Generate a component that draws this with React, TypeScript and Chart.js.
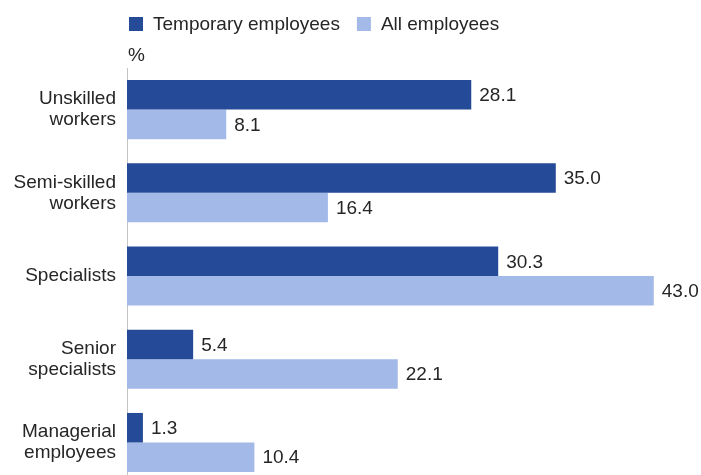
import React, { useEffect, useRef } from "react";
import { Chart, registerables } from "chart.js";

Chart.register(...registerables);

const categories: string[][] = [
  ["Unskilled", "workers"],
  ["Semi-skilled", "workers"],
  ["Specialists"],
  ["Senior", "specialists"],
  ["Managerial", "employees"],
];
const temporaryEmployees = [28.1, 35.0, 30.3, 5.4, 1.3];
const allEmployees = [8.1, 16.4, 43.0, 22.1, 10.4];
const seriesNames = ["Temporary employees", "All employees"];
const unitLabel = "%";

const DARK = "#254b98";
const LIGHT = "#a3b9e8";
const TEXT = "#262626";
const FONT = "'Liberation Sans', Arial, sans-serif";

const overlayPlugin = {
  id: "overlay",
  afterDatasetsDraw(chart: any) {
    const ctx = chart.ctx;
    ctx.save();
    ctx.font = `19px ${FONT}`;
    ctx.fillStyle = TEXT;
    ctx.textBaseline = "middle";
    ctx.textAlign = "left";
    chart.data.datasets.forEach((ds: any, di: number) => {
      const meta = chart.getDatasetMeta(di);
      meta.data.forEach((bar: any, i: number) => {
        ctx.fillText(Number(ds.data[i]).toFixed(1), bar.x + 8, bar.y + 1);
      });
    });
    // legend
    const left = chart.chartArea.left + 2;
    const ly = 24;
    let x = left;
    chart.data.datasets.forEach((ds: any) => {
      ctx.fillStyle = ds.backgroundColor;
      ctx.fillRect(x, ly - 7, 14, 14);
      ctx.fillStyle = TEXT;
      ctx.fillText(ds.label, x + 24, ly + 1);
      x += 24 + ctx.measureText(ds.label).width + 17;
    });
    // unit label
    ctx.fillText(unitLabel, chart.chartArea.left + 1, 56);
    ctx.restore();
  },
};

export default function App() {
  const ref = useRef<HTMLCanvasElement | null>(null);
  useEffect(() => {
    document.body.style.margin = "0";
    document.body.style.overflow = "hidden";
    const chart = new Chart(ref.current as HTMLCanvasElement, {
      type: "bar",
      data: {
        labels: categories,
        datasets: [
          { label: seriesNames[0], data: temporaryEmployees, backgroundColor: DARK, categoryPercentage: 0.71, barPercentage: 1.0 },
          { label: seriesNames[1], data: allEmployees, backgroundColor: LIGHT, categoryPercentage: 0.71, barPercentage: 1.0 },
        ],
      },
      options: {
        indexAxis: "y",
        animation: false,
        responsive: false,
        devicePixelRatio: 1,
        layout: { padding: { top: 68, bottom: 0, left: 0, right: 8 } },
        plugins: { legend: { display: false }, tooltip: { enabled: false }, title: { display: false } },
        scales: {
          x: { display: false, min: 0, max: 46.2 },
          y: {
            grid: { display: false, drawTicks: false },
            border: { display: true, color: "#c4c4c4", width: 1 },
            ticks: { font: { family: FONT, size: 19, lineHeight: 1.1 }, color: TEXT, padding: 11 },
            afterFit(scale: any) {
              scale.width = 127;
            },
          },
        },
      },
      plugins: [overlayPlugin],
    } as any);
    return () => chart.destroy();
  }, []);
  return (
    <div style={{ position: "absolute", left: 0, top: 0, width: 701, height: 475, overflow: "hidden", background: "#fff" }}>
      <canvas ref={ref} width={701} height={516} style={{ display: "block" }} />
    </div>
  );
}
